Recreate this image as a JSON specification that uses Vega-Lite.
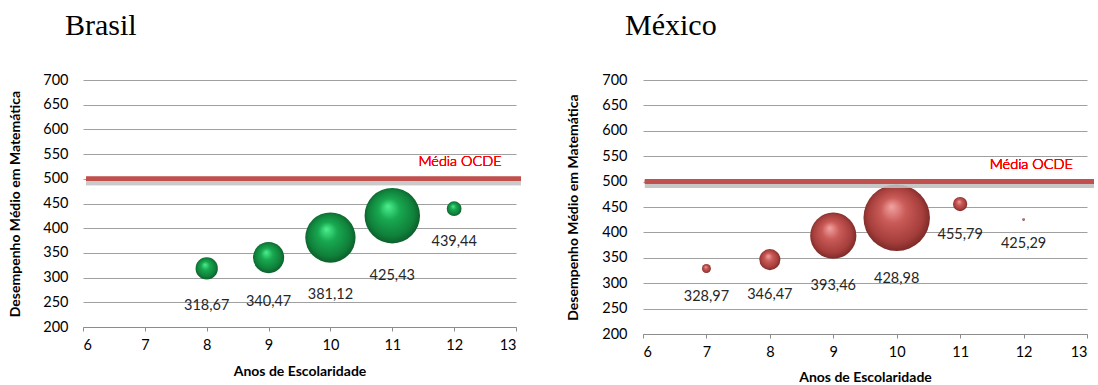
{
  "$schema": "https://vega.github.io/schema/vega-lite/v6.json",
  "background": "white",
  "padding": {"left": 7, "top": 11, "right": 0, "bottom": 0},
  "bounds": "flush",
  "spacing": 127,
  "config": {
    "view": {"stroke": null},
    "locale": {"number": {"decimal": ",", "thousands": ".", "grouping": [3], "currency": ["R$", ""]}},
    "axis": {
      "labelFont": "Lato", "labelFontSize": 14.5, "labelColor": "#000000",
      "titleFont": "Lato", "titleFontSize": 14, "titleFontWeight": "bold", "titleColor": "#000000",
      "gridColor": "#A0A0A0", "gridWidth": 1, "domainColor": "#8C8C8C", "tickColor": "#8C8C8C"
    }
  },
  "datasets": {
    "brasil": [
      {"anos": 8, "media": 318.67, "pct": 6.8},
      {"anos": 9, "media": 340.47, "pct": 13.3},
      {"anos": 10, "media": 381.12, "pct": 34.7},
      {"anos": 11, "media": 425.43, "pct": 42.2},
      {"anos": 12, "media": 439.44, "pct": 3.0}
    ],
    "mexico": [
      {"anos": 7, "media": 328.97, "pct": 1.1},
      {"anos": 8, "media": 346.47, "pct": 6.1},
      {"anos": 9, "media": 393.46, "pct": 29.3},
      {"anos": 10, "media": 428.98, "pct": 60.6},
      {"anos": 11, "media": 455.79, "pct": 2.8},
      {"anos": 12, "media": 425.29, "pct": 0.1}
    ]
  },
  "hconcat": [
    {
      "width": 433,
      "height": 247,
      "title": {"text": "Brasil", "anchor": "start", "frame": "group", "dx": -18, "offset": 7, "baseline": "alphabetic", "font": "Liberation Serif", "fontSize": 30, "fontWeight": "normal", "color": "#000000"},
      "data": {"name": "brasil"},
      "transform": [{"calculate": "sqrt(datum.pct / 42.2 * 4418 / PI) + 23", "as": "off"}],
      "layer": [
        {
          "mark": {"type": "circle", "opacity": 1, "strokeWidth": 0,
            "fill": {"gradient": "radial", "x1": 0.42, "y1": 0.33, "r1": 0, "x2": 0.5, "y2": 0.5, "r2": 0.55,
              "stops": [{"offset": 0, "color": "#4DF08E"}, {"offset": 0.35, "color": "#18A850"}, {"offset": 0.75, "color": "#10803A"}, {"offset": 1, "color": "#0A5226"}]}},
          "encoding": {
            "x": {"field": "anos", "type": "quantitative", "scale": {"domain": [6, 13], "nice": false, "zero": false},
              "axis": {"values": [6, 7, 8, 9, 10, 11, 12, 13], "tickCount": 12, "format": "d", "grid": false, "tickSize": 4, "labelPadding": 7, "title": "Anos de Escolaridade", "titleY": 44, "titleBaseline": "middle"}},
            "y": {"field": "media", "type": "quantitative", "scale": {"domain": [200, 700], "nice": false, "zero": false},
              "axis": {"values": [200, 250, 300, 350, 400, 450, 500, 550, 600, 650, 700], "tickCount": 12, "labelOverlap": false, "domain": false, "ticks": false, "tickSize": 0, "labelPadding": 15, "title": "Desempenho Médio em Matemática", "titleX": -68, "titleY": 123.5, "titleAngle": -90, "titleAlign": "center", "titleBaseline": "middle"}},
            "size": {"field": "pct", "type": "quantitative", "scale": {"domain": [0, 42.2], "range": [0, 4418]}, "legend": null}
          }
        },
        {
          "mark": {"type": "rule", "color": "#BFBFBF", "strokeWidth": 5, "opacity": 0.3, "yOffset": 4},
          "encoding": {"x": {"datum": 6.05}, "x2": {"datum": 13.08}, "y": {"datum": 500}}
        },
        {
          "mark": {"type": "rule", "color": "#C0504D", "strokeWidth": 4},
          "encoding": {"x": {"datum": 6.05}, "x2": {"datum": 13.08}, "y": {"datum": 500}}
        },
        {
          "mark": {"type": "text", "align": "right", "baseline": "middle", "color": "#FF0000", "font": "Lato", "fontSize": 14.5, "fontWeight": 300},
          "encoding": {"x": {"datum": 12.77}, "y": {"datum": 535}, "text": {"value": "Média OCDE"}}
        },
        {
          "mark": {"type": "text", "baseline": "middle", "font": "Lato", "fontSize": 14.5, "color": "#262626", "dy": {"expr": "datum.off"}},
          "encoding": {
            "x": {"field": "anos", "type": "quantitative"},
            "y": {"field": "media", "type": "quantitative"},
            "text": {"field": "media", "type": "quantitative", "format": ".2f"}
          }
        }
      ]
    },
    {
      "width": 444,
      "height": 254,
      "title": {"text": "México", "anchor": "start", "frame": "group", "dx": -18, "offset": 7, "baseline": "alphabetic", "font": "Liberation Serif", "fontSize": 30, "fontWeight": "normal", "color": "#000000"},
      "data": {"name": "mexico"},
      "transform": [{"calculate": "sqrt(datum.pct / 60.6 * 4729 / PI) + 23", "as": "off"}],
      "layer": [
        {
          "mark": {"type": "circle", "opacity": 1, "strokeWidth": 0,
            "fill": {"gradient": "radial", "x1": 0.42, "y1": 0.33, "r1": 0, "x2": 0.5, "y2": 0.5, "r2": 0.55,
              "stops": [{"offset": 0, "color": "#F2A3A1"}, {"offset": 0.35, "color": "#C95A57"}, {"offset": 0.75, "color": "#A53E3B"}, {"offset": 1, "color": "#6E2321"}]}},
          "encoding": {
            "x": {"field": "anos", "type": "quantitative", "scale": {"domain": [6, 13], "nice": false, "zero": false},
              "axis": {"values": [6, 7, 8, 9, 10, 11, 12, 13], "tickCount": 12, "format": "d", "grid": false, "tickSize": 4, "labelPadding": 7, "title": "Anos de Escolaridade", "titleY": 43, "titleBaseline": "middle"}},
            "y": {"field": "media", "type": "quantitative", "scale": {"domain": [200, 700], "nice": false, "zero": false},
              "axis": {"values": [200, 250, 300, 350, 400, 450, 500, 550, 600, 650, 700], "tickCount": 12, "labelOverlap": false, "domain": false, "ticks": false, "tickSize": 0, "labelPadding": 16, "title": "Desempenho Médio em Matemática", "titleX": -70, "titleY": 127, "titleAngle": -90, "titleAlign": "center", "titleBaseline": "middle"}},
            "size": {"field": "pct", "type": "quantitative", "scale": {"domain": [0, 60.6], "range": [0, 4729]}, "legend": null}
          }
        },
        {
          "mark": {"type": "rule", "color": "#BFBFBF", "strokeWidth": 5, "opacity": 0.3, "yOffset": 4},
          "encoding": {"x": {"datum": 6.03}, "x2": {"datum": 13.11}, "y": {"datum": 500}}
        },
        {
          "mark": {"type": "rule", "color": "#C0504D", "strokeWidth": 4},
          "encoding": {"x": {"datum": 6.03}, "x2": {"datum": 13.11}, "y": {"datum": 500}}
        },
        {
          "mark": {"type": "text", "align": "right", "baseline": "middle", "color": "#FF0000", "font": "Lato", "fontSize": 14.5, "fontWeight": 300},
          "encoding": {"x": {"datum": 12.78}, "y": {"datum": 532}, "text": {"value": "Média OCDE"}}
        },
        {
          "mark": {"type": "text", "baseline": "middle", "font": "Lato", "fontSize": 14.5, "color": "#262626", "dy": {"expr": "datum.off"}},
          "encoding": {
            "x": {"field": "anos", "type": "quantitative"},
            "y": {"field": "media", "type": "quantitative"},
            "text": {"field": "media", "type": "quantitative", "format": ".2f"}
          }
        }
      ]
    }
  ]
}
